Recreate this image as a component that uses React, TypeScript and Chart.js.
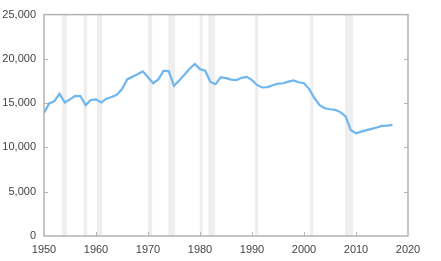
import React, { useEffect, useRef } from "react";
import { Chart, registerables } from "chart.js";
Chart.register(...registerables);

const years = [
  1950, 1951, 1952, 1953, 1954, 1955, 1956, 1957, 1958, 1959,
  1960, 1961, 1962, 1963, 1964, 1965, 1966, 1967, 1968, 1969,
  1970, 1971, 1972, 1973, 1974, 1975, 1976, 1977, 1978, 1979,
  1980, 1981, 1982, 1983, 1984, 1985, 1986, 1987, 1988, 1989,
  1990, 1991, 1992, 1993, 1994, 1995, 1996, 1997, 1998, 1999,
  2000, 2001, 2002, 2003, 2004, 2005, 2006, 2007, 2008, 2009,
  2010, 2011, 2012, 2013, 2014, 2015, 2016, 2017,
];
const values = [
  13900, 14970, 15220, 16050, 15070, 15430, 15830, 15800, 14780, 15360,
  15430, 15070, 15510, 15690, 15940, 16590, 17680, 17970, 18260, 18590,
  17930, 17250, 17680, 18660, 18590, 16960, 17570, 18220, 18880, 19420,
  18840, 18660, 17390, 17140, 17930, 17830, 17660, 17610, 17860, 17970,
  17610, 17030, 16770, 16810, 17030, 17210, 17250, 17430, 17570, 17360,
  17250, 16590, 15580, 14780, 14420, 14310, 14240, 13990, 13510, 11960,
  11600, 11780, 11960, 12100, 12250, 12430, 12470, 12540,
];
const recessionStarts = [1953.5, 1957.6, 1960.2, 1970.0, 1973.9, 1979.95, 1981.6, 1990.6, 2001.2, 2007.9];
const recessionEnds = [1954.4, 1958.3, 1961.2, 1970.8, 1975.2, 1980.5, 1982.9, 1991.2, 2001.8, 2009.4];
const yTickValues = [0, 5000, 10000, 15000, 20000, 25000];
const xTickValues = [1950, 1960, 1970, 1980, 1990, 2000, 2010, 2020];

const bandsAndFrame = {
  id: "bandsAndFrame",
  beforeDatasetsDraw(chart: any) {
    const { ctx, chartArea, scales } = chart;
    const xs = scales.x;
    ctx.save();
    ctx.fillStyle = "#eeeeee";
    for (let i = 0; i < recessionStarts.length; i++) {
      const a = xs.getPixelForValue(recessionStarts[i]);
      const b = xs.getPixelForValue(recessionEnds[i]);
      ctx.fillRect(a, chartArea.top, b - a, chartArea.bottom - chartArea.top);
    }
    ctx.restore();
  },
  afterDraw(chart: any) {
    const { ctx, chartArea, scales } = chart;
    const { left, right, top, bottom } = chartArea;
    ctx.save();
    ctx.strokeStyle = "#b3b3b3";
    ctx.lineWidth = 1.5;
    ctx.strokeRect(left, top, right - left, bottom - top);
    ctx.lineWidth = 1;
    ctx.beginPath();
    for (const v of yTickValues) {
      if (v === 0 || v === 25000) continue;
      const y = Math.round(scales.y.getPixelForValue(v)) + 0.5;
      ctx.moveTo(left, y);
      ctx.lineTo(left + 4, y);
      ctx.moveTo(right - 4, y);
      ctx.lineTo(right, y);
    }
    for (const v of xTickValues) {
      if (v === 1950 || v === 2020) continue;
      const x = Math.round(scales.x.getPixelForValue(v)) + 0.5;
      ctx.moveTo(x, bottom);
      ctx.lineTo(x, bottom - 4);
    }
    ctx.stroke();
    ctx.restore();
  },
};

export default function App() {
  const ref = useRef<HTMLCanvasElement>(null);
  useEffect(() => {
    if (!ref.current) return;
    const chart = new Chart(ref.current, {
      type: "line",
      data: {
        datasets: [
          {
            data: years.map((y, i) => ({ x: y, y: values[i] })),
            borderColor: "#6fb6ef",
            borderWidth: 2.2,
            pointRadius: 0,
            tension: 0,
            fill: false,
          },
        ],
      },
      options: {
        animation: false,
        responsive: false,
        maintainAspectRatio: false,
        layout: { padding: { top: 6, right: 33, bottom: 0, left: 0 } },
        plugins: { legend: { display: false }, tooltip: { enabled: false } },
        scales: {
          x: {
            type: "linear",
            min: 1950,
            max: 2020,
            grid: { display: false, drawTicks: false },
            border: { display: false },
            afterFit: (s: any) => { s.height = 25; },
            afterBuildTicks: (s: any) => { s.ticks = xTickValues.map((v) => ({ value: v })); },
            ticks: {
              padding: 7,
              color: "#444444",
              font: { family: "Liberation Sans, Arial, sans-serif", size: 11 },
              callback: (v: any) => String(v),
              maxRotation: 0,
              autoSkip: false,
            },
          },
          y: {
            type: "linear",
            min: 0,
            max: 25000,
            grid: { display: false, drawTicks: false },
            border: { display: false },
            afterFit: (s: any) => { s.width = 44; },
            afterBuildTicks: (s: any) => { s.ticks = yTickValues.map((v) => ({ value: v })); },
            ticks: {
              padding: 8,
              color: "#444444",
              font: { family: "Liberation Sans, Arial, sans-serif", size: 11 },
              callback: (v: any) => Number(v).toLocaleString("en-US"),
            },
          },
        },
      },
      plugins: [bandsAndFrame],
    } as any);
    return () => chart.destroy();
  }, []);
  return (
    <div style={{ position: "fixed", left: 0, top: 0, width: 441, height: 261 }}>
      <canvas ref={ref} width={441} height={261} style={{ width: 441, height: 261 }} />
    </div>
  );
}
